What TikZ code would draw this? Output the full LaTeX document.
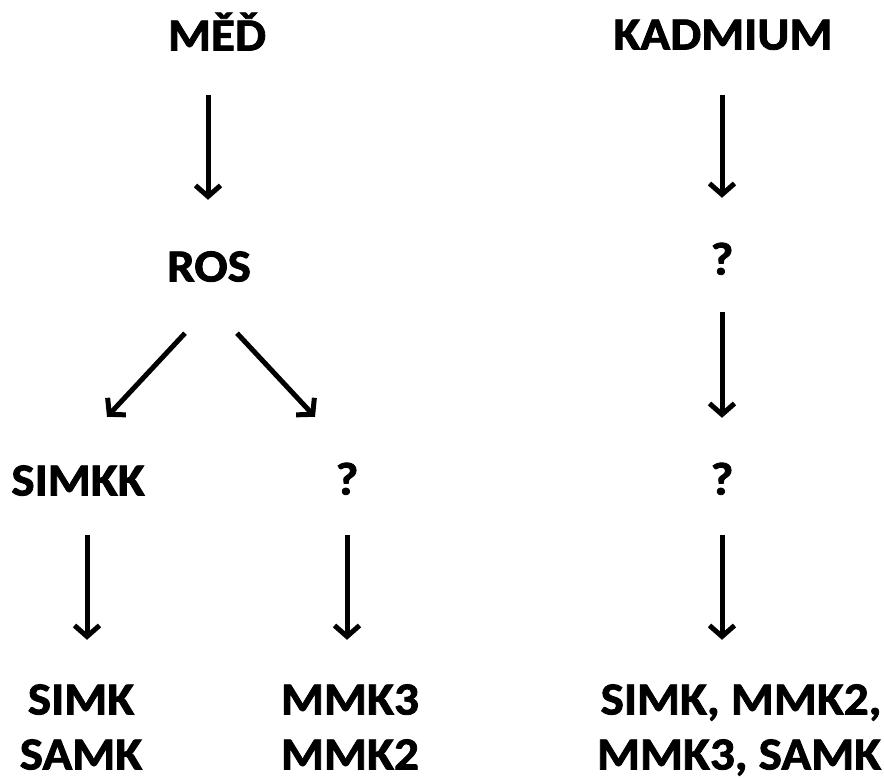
\documentclass[tikz,border=0pt]{standalone}
\usepackage{fontspec}
\setmainfont{Carlito}[BoldFeatures={FakeStretch=1.07,FakeBold=1.8}]
\usetikzlibrary{arrows.meta,calc}
\tikzset{
  lbl/.style={inner sep=0pt, text height=29pt, text depth=0pt, anchor=center,
    font=\fontsize{46}{55}\selectfont\bfseries},
  arr/.style={line width=5pt, -{Straight Barb[length=11pt,width=25pt]}},
}
\begin{document}
\begin{tikzpicture}[x=1pt,y=-1pt]
\useasboundingbox (0,0) rectangle (884,778);
\node[lbl] (med) at (217,36) {MĚĎ};
\node[lbl] (kad) at (723,35) {KADMIUM};
\node[lbl] (ros) at (209,267) {ROS};
\node[lbl] (q1) at (722,260) {?};
\node[lbl] (simkk) at (78,481) {SIMKK};
\node[lbl] (q3) at (347,480) {?};
\node[lbl] (q2) at (722,480) {?};
\node[lbl] (simk) at (81,700) {SIMK};
\node[lbl] (samk) at (81,755) {SAMK};
\node[lbl] (mmk3) at (350,700) {MMK3};
\node[lbl] (mmk2) at (350,755) {MMK2};
\node[lbl] (r1) at (741,700) {SIMK, MMK2,};
\node[lbl] (r2) at (739,755) {MMK3, SAMK};
\draw[arr] ($(med.south)+(-9,44.5)$) -- ($(ros.north)+(-1,-52.5)$);
\draw[arr] ($(kad.south)+(-1,45.5)$) -- ($(q1.north)+(0,-47.5)$);
\draw[arr] ($(q1.south)+(0,37.5)$) -- ($(q2.north)+(0,-47.5)$);
\draw[arr] ($(ros.south)+(-24,51.5)$) -- ($(simkk.north)+(29,-49.5)$);
\draw[arr] ($(ros.south)+(28,51.5)$) -- ($(q3.north)+(-32,-48.5)$);
\draw[arr] ($(simkk.south)+(9,39.5)$) -- ($(simk.north)+(6,-45.5)$);
\draw[arr] ($(q3.south)+(0,40.5)$) -- ($(mmk3.north)+(-3,-45.5)$);
\draw[arr] ($(q2.south)+(0,40.5)$) -- ($(r1.north)+(-19,-45.5)$);
\end{tikzpicture}
\end{document}
